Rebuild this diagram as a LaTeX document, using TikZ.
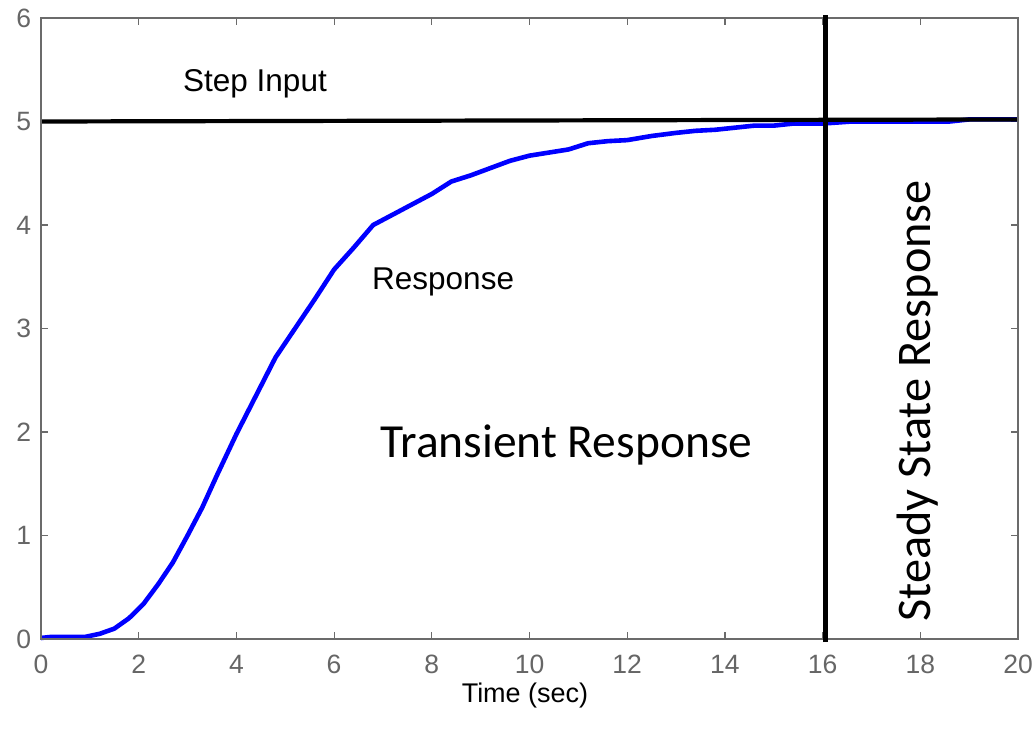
\documentclass[tikz,border=0pt]{standalone}
\usepackage{fontspec}
\setmainfont{Liberation Sans}
\newfontfamily\calib{Carlito}
\begin{document}
\begin{tikzpicture}[x=1pt,y=-1pt,
  axisline/.style={draw=black!58,line width=1.4pt},
  ticklab/.style={text=black!60,font=\fontsize{26.5}{30}\selectfont,inner sep=0pt},
  plainlab/.style={text=black,font=\fontsize{31.5}{36}\selectfont,inner sep=0pt},
  biglab/.style={text=black,font=\calib\fontsize{47.5}{52}\selectfont,inner sep=0pt},
  resp/.style={draw=blue,line width=4.6pt,line join=round},
  thickblack/.style={draw=black,line width=4.2pt}]
\useasboundingbox (0,0) rectangle (1034,730);
\fill[white] (0,0) rectangle (1034,730);
\begin{scope}[shift={(41,639)},x=48.85pt,y=103.5pt]
  % ticks
  \foreach \t in {0,2,...,20} {
    \draw[axisline,line width=1.2pt] (\t,0) -- ++(0,0.07);
    \draw[axisline,line width=1.2pt] (\t,6) -- ++(0,-0.07);
    \node[ticklab,anchor=center] (xl\t) at (\t,-0.245) {\t};
  }
  \foreach \v in {0,...,6} {
    \draw[axisline,line width=1.2pt] (0,\v) -- ++(0.15,0);
    \draw[axisline,line width=1.2pt] (20,\v) -- ++(-0.15,0);
    \node[ticklab,anchor=east] (yl\v) at (-0.2,\v) {\v};
  }
  % response curve
  \draw[resp] plot coordinates {
    (0,0.01) (0.2,0.02) (0.9,0.02) (1.2,0.05) (1.5,0.10) (1.8,0.20) (2.1,0.34)
    (2.4,0.53) (2.7,0.74) (3.0,1.00) (3.3,1.27) (3.6,1.58) (4.0,1.98) (4.4,2.35)
    (4.8,2.72) (5.2,3.00) (5.6,3.28) (6.0,3.57) (6.4,3.78) (6.8,4.00) (7.2,4.10)
    (7.6,4.20) (8.0,4.30) (8.4,4.42) (8.8,4.48) (9.2,4.55) (9.6,4.62) (10.0,4.67)
    (10.4,4.70) (10.8,4.73) (11.2,4.79) (11.6,4.81) (12.0,4.82) (12.5,4.86)
    (13.0,4.89) (13.4,4.91) (13.8,4.92) (14.2,4.94) (14.6,4.96) (15.0,4.96)
    (15.4,4.98) (16.0,4.98) (16.6,5.00) (18.6,5.00) (19.0,5.02) (20.0,5.02)};
  % step input
  \draw[thickblack] (0,5.0) -- (20,5.02);
  % axes box
  \draw[axisline] (0,0) rectangle (20,6);
  % divider
  \draw[draw=black,line width=5pt] (16.05,-0.03) -- (16.05,6.03);
\end{scope}
\node[plainlab,anchor=base west] (step) at (183,92) {Step Input};
\node[plainlab,anchor=base west] (respl) at (372,290) {Response};
\node[biglab,anchor=base west] (trans) at (380,457) {Transient Response};
\node[biglab,anchor=base,rotate=90,font=\calib\fontsize{48.3}{52}\selectfont] (ss) at (930,401) {Steady State Response};
\node[ticklab,anchor=base,font=\fontsize{27}{30}\selectfont,text=black] (xlab) at (525,702) {Time (sec)};
\end{tikzpicture}
\end{document}
